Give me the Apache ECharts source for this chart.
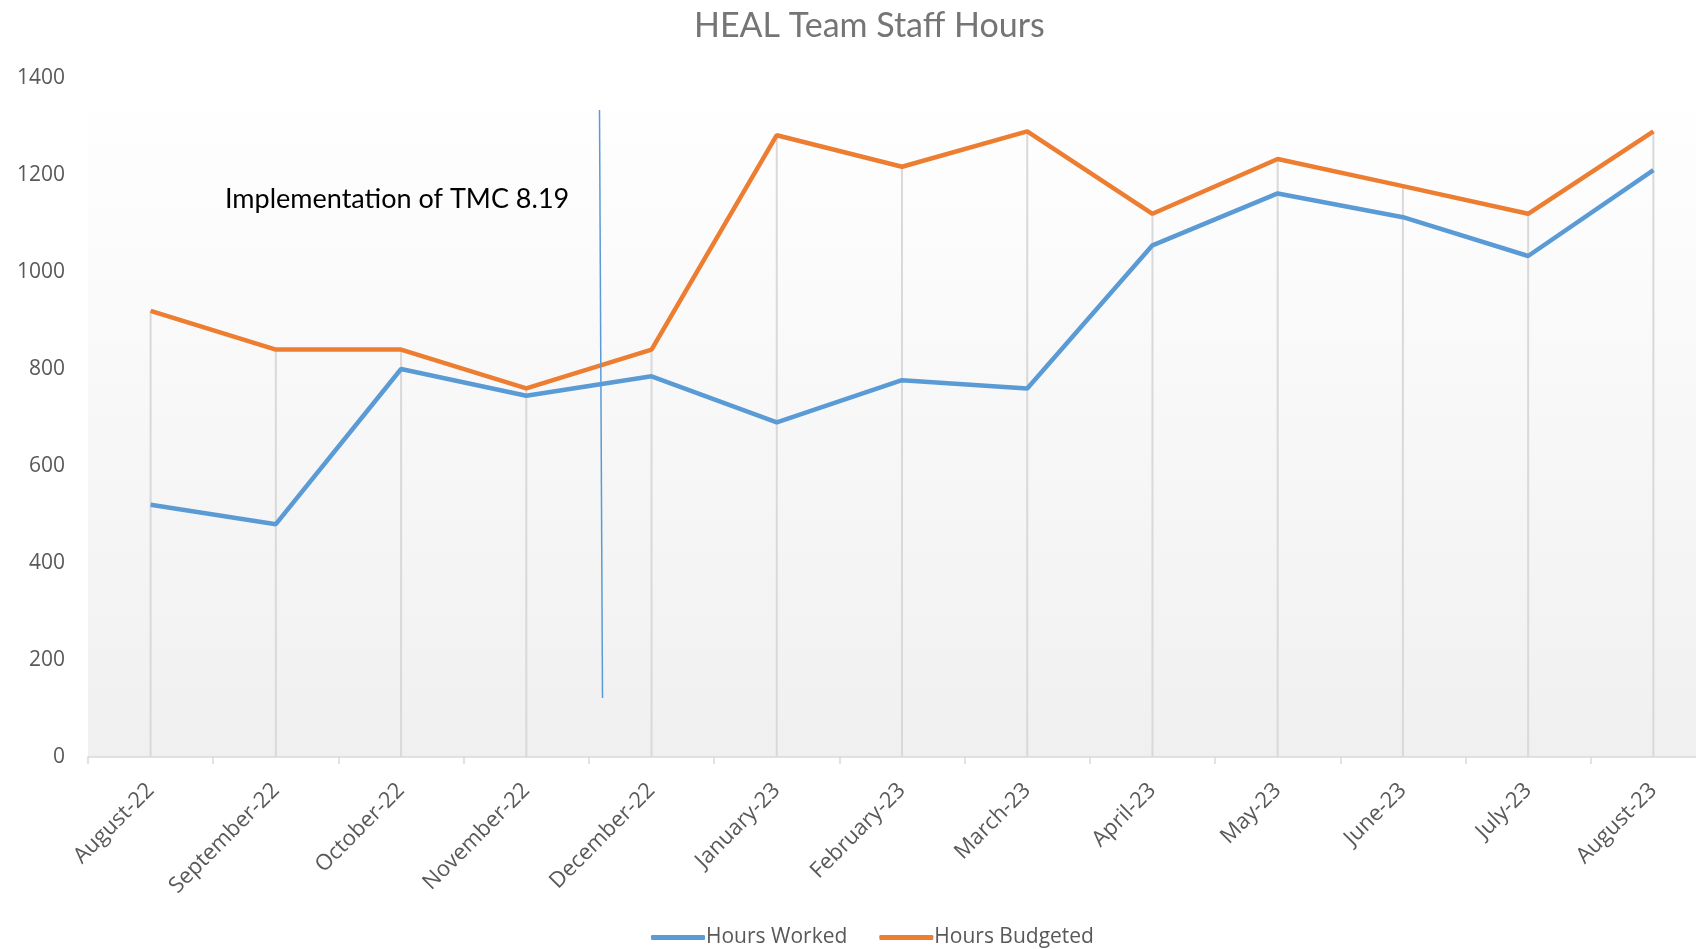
<!DOCTYPE html>
<html>
<head>
<meta charset="utf-8">
<script src="https://cdn.jsdelivr.net/npm/echarts@6/dist/echarts.min.js"></script>
<style>html,body{margin:0;padding:0;background:#fff;}#c{width:1696px;height:949px;}</style>
</head>
<body>
<div id="c"></div>
<script>
const categories = ['August-22','September-22','October-22','November-22','December-22','January-23','February-23','March-23','April-23','May-23','June-23','July-23','August-23'];
const hoursWorked = [520, 480, 800, 745, 785, 690, 777, 760, 1055, 1162, 1113, 1033, 1210];
const hoursBudgeted = [920, 840, 840, 760, 840, 1282, 1217, 1290, 1120, 1233, 1177, 1120, 1290];
const yTicks = [0, 200, 400, 600, 800, 1000, 1200, 1400];
const titleText = 'HEAL Team Staff Hours';
const annotationText = 'Implementation of TMC 8.19';

const dropLines = hoursBudgeted.map((b, i) => Math.max(b, hoursWorked[i]));
const TFONT = 'Lato, "Open Sans", sans-serif';
const AFONT = '"Open Sans", Lato, sans-serif';

const chart = echarts.init(document.getElementById('c'));
chart.setOption({
  animation: false,
  backgroundColor: '#ffffff',
  title: {
    text: titleText,
    left: 689, top: 4,
    textStyle: { fontFamily: TFONT, fontSize: 34, fontWeight: 'normal', color: '#757575' }
  },
  legend: {
    data: ['Hours Worked', 'Hours Budgeted'],
    left: 646, top: 922,
    icon: 'roundRect',
    itemWidth: 54, itemHeight: 5, itemGap: 32,
    textStyle: { fontFamily: AFONT, fontSize: 21, color: '#595959', padding: [0,0,0,-4] }
  },
  grid: {
    left: 88, width: 1628, top: 78, bottom: 192,
    outerBoundsMode: 'none',
    containLabel: false,
    show: true, borderWidth: 0,
    backgroundColor: new echarts.graphic.LinearGradient(0, 0, 0, 1, [
      { offset: 0, color: '#ffffff' },
      { offset: 1, color: '#f0f0f0' }
    ])
  },
  xAxis: {
    type: 'category',
    data: categories,
    boundaryGap: true,
    axisLine: { lineStyle: { color: '#d9d9d9', width: 1.5 } },
    axisTick: { show: true, length: 7, lineStyle: { color: '#d9d9d9', width: 1.5 } },
    axisLabel: { rotate: 45, margin: 30, fontFamily: AFONT, fontSize: 22, color: '#595959', interval: 0 },
    splitLine: { show: false }
  },
  yAxis: {
    type: 'value',
    min: 0, max: 1400, interval: 200,
    axisLine: { show: false },
    axisTick: { show: false },
    splitLine: { show: false },
    axisLabel: { margin: 23, fontFamily: AFONT, fontSize: 21, color: '#595959',
      formatter: v => yTicks.includes(v) ? String(v) : '' }
  },
  series: [
    {
      name: 'Drop lines', type: 'bar', data: dropLines, barWidth: 2,
      itemStyle: { color: '#d9d9d9' }, z: 1, silent: true, legendHoverLink: false
    },
    {
      name: 'Hours Worked', type: 'line', data: hoursWorked,
      symbol: 'none', lineStyle: { color: '#5B9BD5', width: 4.5 }, itemStyle: { color: '#5B9BD5' }, z: 3
    },
    {
      name: 'Hours Budgeted', type: 'line', data: hoursBudgeted,
      symbol: 'none', lineStyle: { color: '#ED7D31', width: 4.5 }, itemStyle: { color: '#ED7D31' }, z: 3
    }
  ],
  graphic: [
    {
      type: 'text', left: 225, top: 186, z: 10,
      style: { text: annotationText, fill: '#000000', font: '27px ' + TFONT }
    },
    {
      type: 'line', z: 10,
      shape: { x1: 599.5, y1: 110, x2: 602.5, y2: 698 },
      style: { stroke: '#5B9BD5', lineWidth: 1.5 }
    }
  ]
});
</script>
</body>
</html>
